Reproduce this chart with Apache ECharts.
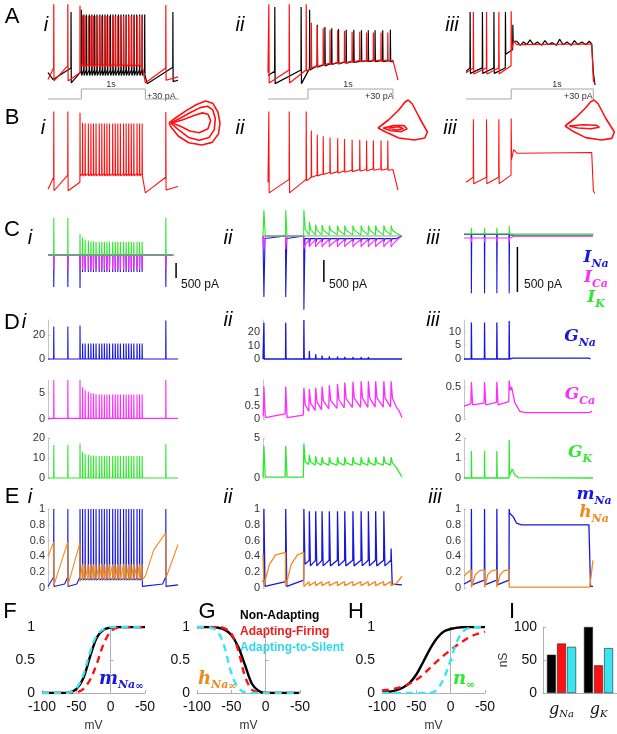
<!DOCTYPE html>
<html>
<head>
<meta charset="utf-8">
<script src="https://cdn.jsdelivr.net/npm/echarts/dist/echarts.min.js"></script>
<style>
  html, body { margin: 0; padding: 0; background: #fff; }
  #main { width: 617px; height: 734px; }
</style>
</head>
<body>
<div id="main"></div>
<script>
// ---------- column i : non-adapting (time in s) ----------
var tI = [0.09, 0.31,
  0.50, 0.54, 0.58, 0.63, 0.67, 0.71, 0.75, 0.80, 0.84, 0.88, 0.92, 0.96,
  1.01, 1.05, 1.09, 1.13, 1.18, 1.22, 1.26, 1.30, 1.34, 1.39, 1.43, 1.47,
  1.84];
var vRedIPeak = [38, 38,
  36, 22, 21, 21, 21, 21, 21, 21, 21, 21, 21, 21,
  21, 21, 21, 21, 21, 21, 21, 21, 21, 21, 21, 21,
  37];
var vRedIPre = [-55, -52,
  -62, -50, -50, -50, -50, -50, -50, -50, -50, -50, -50, -50,
  -50, -50, -50, -50, -50, -50, -50, -50, -50, -50, -50, -50,
  -55];
var vRedIPost = [-74, -74,
  -53, -53, -53, -53, -53, -53, -53, -53, -53, -53, -53, -53,
  -53, -53, -53, -53, -53, -53, -53, -53, -53, -53, -53, -53,
  -73];
var vRedIExtra = [[0, -72], [1.52, -77], [2.03, -68]];

var tBlackI = [0.36,
  0.52, 0.56, 0.60, 0.645, 0.685, 0.725, 0.765, 0.81, 0.85, 0.89, 0.93, 0.975,
  1.015, 1.055, 1.10, 1.14, 1.18, 1.22, 1.26, 1.305, 1.345, 1.385, 1.43, 1.47, 1.51,
  1.95];
var vBlackIPeak = [27,
  30, 23, 23, 23, 23, 23, 23, 23, 23, 23, 23, 23,
  23, 23, 23, 23, 23, 23, 23, 23, 23, 23, 23, 23, 23,
  27];
var vBlackIPre = [-55,
  -60, -58, -58, -58, -58, -58, -58, -58, -58, -58, -58, -58,
  -58, -58, -58, -58, -58, -58, -58, -58, -58, -58, -58, -58, -58,
  -54];
var vBlackIPost = [-77,
  -66, -66, -66, -66, -66, -66, -66, -66, -66, -66, -66, -66,
  -66, -66, -66, -66, -66, -66, -66, -66, -66, -66, -66, -66, -66,
  -75];
var vBlackIExtra = [[0, -62], [0.08, -72], [1.55, -78], [2.03, -73]];

// ---------- column ii : adapting-firing ----------
var tII = [0.01, 0.25, 0.45, 0.51, 0.58, 0.65, 0.73, 0.82, 0.90, 0.99, 1.08, 1.16, 1.24, 1.33, 1.41];
var vRedIIPeak = [38, 38, 38, 11, 5, 3, 1, 0, -1, -2, -2, -3, -3, -3, -3];
var vRedIIPre = [-60, -58, -58, -55, -52, -50, -48, -47, -46, -45, -44, -44, -43, -43, -43];
var vRedIIPost = [-77, -77, -60, -55, -53, -51, -50, -49, -48, -47, -46, -46, -45, -45, -45];
var vRedIIExtra = [[0, -62], [1.47, -44], [1.53, -73]];

var tBlackII = [0.08, 0.39, 0.49, 0.58, 0.67, 0.75, 0.83, 0.92, 1.01, 1.10, 1.18, 1.26, 1.35, 1.44];
var vBlackIIPeak = [34, 34, 30, 8, 5, 3, 2, 1, 1, 0, 0, 0, 0, 1];
var vBlackIIPre = [-60, -58, -56, -52, -50, -48, -47, -46, -45, -45, -44, -44, -44, -44];
var vBlackIIPost = [-78, -78, -58, -54, -52, -50, -49, -48, -47, -46, -46, -46, -46, -46];
var vBlackIIExtra = [[0, -66], [1.48, -46]];

// ---------- column iii : adapting-to-silent ----------
var tIII = [0.09, 0.25, 0.40, 0.55];
var vRedIIIPeak = [27, 27, 27, 28];
var vRedIIIPre = [-55, -55, -55, -52];
var vRedIIIPost = [-64, -64, -64, -30];
var vRedIIIExtra = [[0, -62], [0.58, -16], [0.62, -21], [1.53, -20], [1.55, -74], [1.57, -78]];

var tBlackIII = [0.05, 0.20, 0.34, 0.48, 0.57];
var vBlackIIIPeak = [27, 27, 27, 27, 8];
var vBlackIIIPre = [-55, -55, -55, -55, -28];
var vBlackIIIPost = [-63, -63, -63, -35, -16];
var vBlackIIIExtra = [[0, -60], [0.62, -16], [0.66, -22], [0.70, -17], [0.74, -21], [0.78, -14],
  [0.82, -21], [0.87, -17], [0.92, -22], [0.96, -15], [1.00, -21], [1.05, -18], [1.10, -22],
  [1.14, -13], [1.18, -21], [1.23, -17], [1.28, -22], [1.32, -15], [1.36, -21], [1.41, -17],
  [1.46, -21], [1.50, -16], [1.53, -20], [1.55, -62], [1.57, -80]];

// stimulus (pA)
var stimTI = [0, 0.52, 0.52, 1.52, 1.52, 2.06];
var stimAI = [0, 0, 30, 30, 0, 0];
var stimTII = [0, 0.47, 0.47, 1.47, 1.47];
var stimAII = [0, 0, 30, 30, 0];
var stimTIII = [0, 0.55, 0.55, 1.55, 1.55];
var stimAIII = [0, 0, 30, 30, 0];

// phase-plane loops (normalised V, dV/dt)
var loopI = [
  [[0.02, 0.5], [0.15, 0.62], [0.35, 0.78], [0.55, 0.92], [0.72, 1.0], [0.86, 0.95], [0.96, 0.75], [1.0, 0.5], [0.97, 0.25], [0.85, 0.06], [0.65, 0.0], [0.4, 0.05], [0.2, 0.2], [0.05, 0.42], [0.02, 0.5]],
  [[0.05, 0.5], [0.25, 0.62], [0.45, 0.75], [0.62, 0.85], [0.76, 0.88], [0.86, 0.8], [0.91, 0.6], [0.89, 0.35], [0.79, 0.17], [0.6, 0.11], [0.4, 0.17], [0.2, 0.35], [0.05, 0.5]],
  [[0.08, 0.5], [0.3, 0.58], [0.5, 0.67], [0.66, 0.73], [0.77, 0.7], [0.82, 0.55], [0.77, 0.37], [0.6, 0.28], [0.42, 0.32], [0.25, 0.42], [0.08, 0.5]]
];
var loopII = [
  [[0.0, 0.3], [0.2, 0.5], [0.4, 0.75], [0.52, 0.95], [0.58, 1.0], [0.66, 0.9], [0.8, 0.55], [0.95, 0.2], [0.9, 0.05], [0.7, 0.0], [0.4, 0.05], [0.15, 0.2], [0.0, 0.3]],
  [[0.1, 0.3], [0.3, 0.36], [0.5, 0.36], [0.56, 0.28], [0.45, 0.21], [0.25, 0.23], [0.1, 0.3]],
  [[0.2, 0.3], [0.4, 0.33], [0.49, 0.28], [0.35, 0.25], [0.2, 0.3]]
];
var loopIII = [
  [[0.0, 0.35], [0.2, 0.55], [0.38, 0.78], [0.5, 0.96], [0.56, 1.0], [0.64, 0.9], [0.78, 0.55], [0.95, 0.2], [0.9, 0.04], [0.7, 0.0], [0.4, 0.06], [0.15, 0.22], [0.0, 0.35]],
  [[0.08, 0.35], [0.35, 0.38], [0.6, 0.37], [0.66, 0.32], [0.5, 0.28], [0.25, 0.3], [0.08, 0.35]]
];

// ---------- C : currents (pA) ----------
var iKIPeak = [1230, 1230,
  700, 580, 520, 480, 460, 450, 440, 440, 440, 440, 440, 440,
  440, 440, 440, 440, 440, 440, 440, 440, 440, 440, 440, 440,
  1230];
var iCaIPeak = [-480, -480,
  -520, -500, -500, -500, -500, -500, -500, -500, -500, -500, -500, -500,
  -500, -500, -500, -500, -500, -500, -500, -500, -500, -500, -500, -500,
  -480];
var iNaIPeak = [-1070, -1070,
  -1100, -570, -570, -570, -570, -570, -570, -570, -570, -570, -570, -570,
  -570, -570, -570, -570, -570, -570, -570, -570, -570, -570, -570, -570,
  -1070];
var iIEnd = [[0, 0], [1.95, 0]];

var iKIIPeak = [590, 590, 590, 320, 260, 250, 240, 240, 240, 240, 240, 240, 240, 240, 240];
var iKIIPre = [0, 0, 0, 20, 25, 25, 25, 25, 25, 25, 25, 25, 25, 25, 25];
var iKIIPost = [0, 0, 150, 140, 130, 130, 130, 130, 130, 130, 130, 130, 130, 130, 130];
var iKIIExtra = [[0, 0], [1.47, 60], [1.53, 0]];
var iCaIIPeak = [-300, -300, -300, -250, -250, -250, -250, -250, -250, -250, -250, -250, -250, -250, -250];
var iCaIIPre = [0, 0, 0, -80, -80, -80, -80, -80, -80, -80, -80, -80, -80, -80, -80];
var iCaIIPost = [0, 0, -200, -200, -200, -200, -200, -200, -200, -200, -200, -200, -200, -200, -200];
var iCaIIExtra = [[0, 0], [1.47, -100], [1.53, 0]];
var iNaIIPeak = [-1390, -1390, -1680, -200, -160, -140, -130, -130, -130, -130, -130, -130, -130, -130, -130];
var iNaIIPre = [0, 0, 0, -60, -60, -60, -60, -60, -60, -60, -60, -60, -60, -60, -60];
var iNaIIExtra = [[0, 0], [1.47, -60], [1.53, 0]];

var iKIIIPeak = [70, 70, 70, 90];
var iKIIIExtra = [[0, 0], [0.6, -10], [1.57, -10]];
var iCaIIIPeak = [-90, -90, -90, -90];
var iCaIIIExtra = [[0, -45], [0.62, -25], [1.57, -25]];
var iNaIIIPeak = [-660, -660, -660, -660];
var iNaIIIExtra = [[0, -5], [0.6, -20], [1.57, -20]];
var zeroLineEnd = [1.98, 1.53, 1.61];

// ---------- D : conductances (nS) ----------
var gNaIPeak = [27, 27,
  28, 13, 13, 13, 13, 13, 13, 13, 13, 13, 13, 13,
  13, 13, 13, 13, 13, 13, 13, 13, 13, 13, 13, 13,
  32];
var gCaIPeak = [7.5, 7.5,
  7.5, 6.1, 5.6, 5.3, 5.0, 4.9, 4.8, 4.7, 4.7, 4.7, 4.7, 4.7,
  4.7, 4.7, 4.7, 4.7, 4.7, 4.7, 4.7, 4.7, 4.7, 4.7, 4.7, 4.7,
  7.5];
var gKIPeak = [16.5, 16.5,
  17.3, 13, 12, 11.6, 11.3, 11.2, 11.1, 11, 11, 11, 11, 11,
  11, 11, 11, 11, 11, 11, 11, 11, 11, 11, 11, 11,
  17];

var gNaIIPeak = [27, 27, 29, 6, 3.5, 2.5, 2, 1.8, 1.6, 1.5, 1.5, 1.5, 1.4, 1.4, 1.4];
var gCaIIPeak = [1.25, 1.25, 1.2, 1.15, 1.2, 1.25, 1.3, 1.35, 1.4, 1.42, 1.45, 1.45, 1.45, 1.45, 1.45];
var gCaIIPre = [0.2, 0.2, 0.15, 0.3, 0.33, 0.36, 0.39, 0.41, 0.43, 0.44, 0.45, 0.45, 0.46, 0.46, 0.46];
var gCaIIPost = [0.05, 0.05, 0.55, 0.6, 0.65, 0.7, 0.72, 0.75, 0.78, 0.8, 0.8, 0.8, 0.8, 0.8, 0.8];
var gCaIIExtra = [[0, 0.12], [1.47, 0.45], [1.5, 0.3], [1.53, 0.05]];
var gKIIPeak = [4.0, 4.0, 4.3, 2.9, 2.7, 2.6, 2.6, 2.6, 2.6, 2.6, 2.6, 2.6, 2.6, 2.7, 2.6];
var gKIIPre = [0.1, 0.1, 0.1, 1.7, 1.6, 1.6, 1.6, 1.6, 1.6, 1.6, 1.6, 1.6, 1.6, 1.6, 1.6];
var gKIIPost = [0.1, 0.1, 2.0, 2.0, 1.9, 1.9, 1.9, 1.9, 1.9, 1.9, 1.9, 1.9, 1.9, 1.9, 1.9];
var gKIIExtra = [[0, 0.1], [1.47, 1.3], [1.53, 0.1]];

var gNaIIIPeak = [13.5, 13.5, 13.5, 14];
var gNaIIIExtra = [[0, 0], [0.6, 0.3], [1.52, 0.3], [1.54, 0]];
var gCaIIIPeak = [0.58, 0.58, 0.58, 0.6];
var gCaIIIPre = [0.24, 0.25, 0.26, 0.27];
var gCaIIIPost = [0.22, 0.22, 0.22, 0.45];
var gCaIIIExtra = [[0, 0.2], [0.58, 0.5], [0.62, 0.25], [0.68, 0.12], [0.75, 0.1], [1.52, 0.1], [1.54, 0.13], [1.56, 0.12]];
var gKIIIPeak = [1.35, 1.35, 1.35, 1.9];
var gKIIIPost = [0, 0, 0, 0.1];
var gKIIIExtra = [[0, 0], [0.585, 0.45], [0.62, 0.15], [0.66, 0.02], [1.57, 0]];

// ---------- E : gating variables ----------
var mNaIPre = [0.14, 0.14,
  0.14, 0.12, 0.12, 0.12, 0.12, 0.12, 0.12, 0.12, 0.12, 0.12, 0.12, 0.12,
  0.12, 0.12, 0.12, 0.12, 0.12, 0.12, 0.12, 0.12, 0.12, 0.12, 0.12, 0.12,
  0.14];
var mNaIPost = [0.02, 0.02,
  0.1, 0.1, 0.1, 0.1, 0.1, 0.1, 0.1, 0.1, 0.1, 0.1, 0.1, 0.1,
  0.1, 0.1, 0.1, 0.1, 0.1, 0.1, 0.1, 0.1, 0.1, 0.1, 0.1, 0.02,
  0.02];
var mNaIExtra = [[0, 0.02], [0.26, 0.05], [0.45, 0.05], [1.79, 0.05], [2.03, 0.04]];
var hNaIPre = [0.58, 0.58,
  0.57, 0.3, 0.3, 0.3, 0.3, 0.3, 0.3, 0.3, 0.3, 0.3, 0.3, 0.3,
  0.3, 0.3, 0.3, 0.3, 0.3, 0.3, 0.3, 0.3, 0.3, 0.3, 0.3, 0.3,
  0.7];
var hNaIDrop = [0.03, 0.03,
  0.08, 0.1, 0.1, 0.1, 0.1, 0.1, 0.1, 0.1, 0.1, 0.1, 0.1, 0.1,
  0.1, 0.1, 0.1, 0.1, 0.1, 0.1, 0.1, 0.1, 0.1, 0.1, 0.1, 0.1,
  0.12];
var hNaIExtra = [[0, 0.4], [1.52, 0.15], [1.65, 0.48], [2.03, 0.55]];

var mNaIIPeak = [1, 1, 1, 0.97, 0.97, 0.97, 0.97, 0.97, 0.97, 0.97, 0.97, 0.97, 0.97, 0.97, 0.5];
var mNaIIPre = [0.06, 0.08, 0.1, 0.35, 0.35, 0.35, 0.35, 0.35, 0.35, 0.35, 0.35, 0.35, 0.35, 0.35, 0.35];
var mNaIIPost = [0.02, 0.02, 0.3, 0.28, 0.28, 0.28, 0.28, 0.28, 0.28, 0.28, 0.28, 0.28, 0.28, 0.28, 0.05];
var mNaIIExtra = [[0, 0.1], [1.53, 0.04]];
var hNaIIPre = [0.43, 0.45, 0.45, 0.08, 0.08, 0.08, 0.08, 0.08, 0.08, 0.08, 0.08, 0.08, 0.08, 0.08, 0.08];
var hNaIIDrop = [0.03, 0.02, 0.02, 0.03, 0.03, 0.03, 0.03, 0.03, 0.03, 0.03, 0.03, 0.03, 0.03, 0.03, 0.03];
var hNaIIExtra = [[0, 0.43], [0.07, 0.3], [0.14, 0.42], [0.31, 0.3], [0.38, 0.42], [1.47, 0.06], [1.53, 0.15]];

var mNaIIIPeak = [1, 1, 1, 1];
var mNaIIIPre = [0.1, 0.1, 0.1, 0.1];
var mNaIIIPost = [0.04, 0.04, 0.04, 0.95];
var mNaIIIExtra = [[0, 0.05], [0.6, 0.9], [0.64, 0.82], [0.7, 0.8], [1.52, 0.8], [1.54, 0.02], [1.57, 0.02]];
var hNaIIIPre = [0.23, 0.23, 0.23, 0.23];
var hNaIIIDrop = [0.01, 0.01, 0.01, 0.01];
var hNaIIIExtra = [[0, 0.15], [0.05, 0.2], [0.14, 0.17], [0.19, 0.22], [0.29, 0.17], [0.34, 0.22],
  [0.44, 0.17], [0.49, 0.22], [1.53, 0.01], [1.57, 0.35]];

// ---------- F, G, H : steady-state curves ----------
var mvX = [-100, -90, -80, -70, -60, -50, -40, -30, -20, -10, 0, 10, 20, 30, 40, 50];
var mvTicks = [-100, -50, 0, 50];
var mvTickLabels = ['-100', '-50', '0', '-50'];
var mInfBlack = [0, 0, 0, 0, 0.01, 0.06, 0.22, 0.55, 0.84, 0.96, 0.99, 1, 1, 1, 1, 1];
var mInfRed = [0, 0, 0, 0, 0, 0.01, 0.06, 0.2, 0.45, 0.75, 0.93, 0.99, 1, 1, 1, 1];
var mInfCyan = [0, 0, 0, 0, 0.01, 0.07, 0.27, 0.62, 0.88, 0.97, 1, 1, 1, 1, 1, 1];
var hInfBlack = [1, 1, 1, 0.99, 0.96, 0.88, 0.7, 0.42, 0.14, 0.03, 0, 0, 0, 0, 0, 0];
var hInfRed = [1, 1, 1, 1, 0.98, 0.9, 0.65, 0.25, 0.05, 0.01, 0, 0, 0, 0, 0, 0];
var hInfCyan = [1, 1, 0.99, 0.93, 0.7, 0.3, 0.08, 0.01, 0, 0, 0, 0, 0, 0, 0, 0];
var nInfBlack = [0.01, 0.02, 0.04, 0.08, 0.15, 0.28, 0.47, 0.67, 0.83, 0.93, 0.97, 0.99, 1, 1, 1, 1];
var nInfRed = [0.04, 0.05, 0.07, 0.1, 0.14, 0.2, 0.28, 0.38, 0.48, 0.57, 0.65, 0.73, 0.8, 0.86, 0.9, 0.93];
var nInfCyan = [0, 0, 0, 0, 0, 0, 0, 0, 0.05, 0.22, 0.5, 0.8, 0.95, 0.99, 1, 1];

// ---------- I : maximal conductances (nS) ----------
var gCats = ['Na', 'K'];
var gNonAdapting = [58, 100];
var gAdaptFiring = [75, 42];
var gAdaptSilent = [70, 68];

var scaleBarPA = 500;

// ================== drawing ==================
var RED = '#ff1010', BLACK = '#000000', BLUE = '#1717e0', MAG = '#ff2cff',
    GREEN = '#2ee82e', ORANGE = '#f08a1c', CYAN = '#38e6f2', GRAY = '#a6a6a6';

var grids = [], xAxes = [], yAxes = [], series = [], graphics = [];

function val(a, k) { return Array.isArray(a) ? a[k] : a; }

// spike train: a knot just before, at and just after each spike, plus extra knots
function train(times, pre, peak, post, extra, wPre, wPost) {
  var pts = [];
  for (var k = 0; k < times.length; k++) {
    var t = times[k];
    pts.push([t - wPre, val(pre, k)], [t, val(peak, k)], [t + wPost, val(post, k)]);
  }
  (extra || []).forEach(function (p) { pts.push(p); });
  pts.sort(function (a, b) { return a[0] - b[0]; });
  return pts;
}
function zip(xs, ys) { return xs.map(function (x, i) { return [x, ys[i]]; }); }

function addGrid(rect, xr, yr, yAx) {
  var i = grids.length;
  grids.push({ left: rect[0], top: rect[1], width: rect[2], height: rect[3] });
  xAxes.push({ gridIndex: i, type: 'value', min: xr[0], max: xr[1], show: false, splitLine: { show: false } });
  var y = { gridIndex: i, type: 'value', min: yr[0], max: yr[1], show: false, splitLine: { show: false } };
  if (yAx) Object.assign(y, yAx);
  yAxes.push(y);
  return i;
}
function smallY(ticks) {
  return {
    show: true,
    axisLine: { show: true, lineStyle: { color: '#c4c4c4', width: 1 } },
    axisTick: { show: true, inside: true, length: 2, customValues: ticks, lineStyle: { color: '#c4c4c4' } },
    axisLabel: { show: true, customValues: ticks, fontSize: 11, color: '#333', margin: 3, fontFamily: 'Liberation Sans' },
    splitLine: { show: false }
  };
}
function line(gi, data, color, w, dash) {
  series.push({
    type: 'line', xAxisIndex: gi, yAxisIndex: gi, data: data, showSymbol: false, symbol: 'none',
    lineStyle: { color: color, width: w || 1.2, type: dash || 'solid' }, clip: false, silent: true
  });
}
function txt(x, y, text, o) {
  o = o || {};
  graphics.push({
    type: 'text', x: x, y: y, silent: true,
    style: {
      text: text, fill: o.fill || '#000', fontSize: o.size || 12,
      fontFamily: o.family || 'Liberation Sans', fontStyle: o.style || 'normal',
      fontWeight: o.weight || 'normal', align: o.align || 'center', verticalAlign: 'middle',
      rich: o.rich
    }
  });
}
function mathLabel(x, y, main, sub, color, size, align, extraSub) {
  var s = size || 17;
  var text = '{m|' + main + '}{s|' + sub + '}' + (extraSub ? '{t|' + extraSub + '}' : '');
  txt(x, y, text, {
    align: align || 'center',
    rich: {
      m: { fontFamily: 'DejaVu Serif', fontStyle: 'italic', fontWeight: 'bold', fontSize: s, fill: color, verticalAlign: 'middle', lineHeight: s + 6 },
      s: { fontFamily: 'DejaVu Serif', fontStyle: 'italic', fontWeight: 'bold', fontSize: Math.round(s * 0.62), fill: color, verticalAlign: 'bottom', lineHeight: s + 6 },
      t: { fontFamily: 'DejaVu Serif', fontWeight: 'bold', fontSize: Math.round(s * 0.55), fill: color, verticalAlign: 'bottom', lineHeight: s + 2 }
    }
  });
}

var WP = 0.002, WQ = 0.004;

// ---- column geometry ----
var colAB = [{ left: 48, width: 130, tmax: 2.03 }, { left: 268, width: 130, tmax: 1.53 }, { left: 466, width: 129, tmax: 1.57 }];
var colCDE = [{ left: 48, width: 130, tmax: 2.03 }, { left: 263, width: 139, tmax: 1.53 }, { left: 464, width: 129, tmax: 1.57 }];

// ---- A : recordings (black) vs model (red) ----
var redV = [
  train(tI, vRedIPre, vRedIPeak, vRedIPost, vRedIExtra, WP, WQ),
  train(tII, vRedIIPre, vRedIIPeak, vRedIIPost, vRedIIExtra, WP, WQ),
  train(tIII, vRedIIIPre, vRedIIIPeak, vRedIIIPost, vRedIIIExtra, WP, WQ)
];
var blackV = [
  train(tBlackI, vBlackIPre, vBlackIPeak, vBlackIPost, vBlackIExtra, WP, WQ),
  train(tBlackII, vBlackIIPre, vBlackIIPeak, vBlackIIPost, vBlackIIExtra, WP, WQ),
  train(tBlackIII, vBlackIIIPre, vBlackIIIPeak, vBlackIIIPost, vBlackIIIExtra, WP, WQ)
];
var stims = [zip(stimTI, stimAI), zip(stimTII, stimAII), zip(stimTIII, stimAIII)];
for (var c = 0; c < 3; c++) {
  var g = colAB[c];
  var ga = addGrid([g.left, 3, g.width, 82], [0, g.tmax], [-80, 40]);
  line(ga, blackV[c], BLACK, 1.2);
  line(ga, redV[c], RED, 1.2);
  var gs = addGrid([g.left, 89, g.width, 10], [0, g.tmax], [0, 30]);
  line(gs, stims[c], GRAY, 1);
  var gb = addGrid([g.left, 110, g.width, 85], [0, g.tmax], [-80, 40]);
  line(gb, redV[c], RED, 1.1);
}
// phase-plane insets
[[loopI, [168, 101, 52, 44]], [loopII, [378, 100, 52, 40]], [loopIII, [565, 100, 52, 40]]].forEach(function (L) {
  var gl = addGrid(L[1], [0, 1], [0, 1]);
  L[0].forEach(function (loop) { line(gl, loop, RED, 1.6); });
});

// ---- C : currents ----
var cDefs = [
  { yr: [-1500, 1400], top: 213, h: 87, bar: 2.0, barTop: -270,
    na: train(tI, 0, iNaIPeak, 0, iIEnd, WP, WQ),
    ca: train(tI, 0, iCaIPeak, 0, iIEnd, WP, WQ),
    k: train(tI, 0, iKIPeak, 0, iIEnd, WP, WQ) },
  { yr: [-1730, 590], top: 210, h: 102, bar: 0.67, barTop: -545,
    na: train(tII, iNaIIPre, iNaIIPeak, -60, iNaIIExtra, WP, 0.012),
    ca: train(tII, iCaIIPre, iCaIIPeak, iCaIIPost, iCaIIExtra, WP, 0.015),
    k: train(tII, iKIIPre, iKIIPeak, iKIIPost, iKIIExtra, WP, 0.015) },
  { yr: [-845, 100], top: 225, h: 85, bar: 0.65, barTop: -144,
    na: train(tIII, -5, iNaIIIPeak, -5, iNaIIIExtra, WP, WQ),
    ca: train(tIII, -45, iCaIIIPeak, -45, iCaIIIExtra, WP, WQ),
    k: train(tIII, 0, iKIIIPeak, 0, iKIIIExtra, WP, WQ) }
];
cDefs.forEach(function (d, c) {
  var g = colCDE[c];
  var gi = addGrid([g.left, d.top, g.width, d.h], [0, g.tmax], d.yr);
  line(gi, [[0, 0], [zeroLineEnd[c], 0]], '#9a9a9a', 1);
  line(gi, d.na, BLUE, 1.1);
  line(gi, d.ca, MAG, 1.1);
  line(gi, d.k, GREEN, 1.1);
  line(gi, [[d.bar, d.barTop], [d.bar, d.barTop - scaleBarPA]], BLACK, 1.5);
});

// ---- D : conductances ----
var dDefs = [
  [ { max: 32.5, ticks: [0, 20], d: train(tI, 0, gNaIPeak, 0, [[0, 0], [2.03, 0]], WP, WQ) },
    { max: 7.5, ticks: [0, 5], d: train(tI, 0.12, gCaIPeak, 0.12, [[0, 0.12], [2.03, 0.12]], WP, WQ) },
    { max: 20, ticks: [0, 10, 20], d: train(tI, 0, gKIPeak, 0, [[0, 0], [2.03, 0]], WP, WQ) } ],
  [ { max: 29, ticks: [0, 10, 20], d: train(tII, 0, gNaIIPeak, 0, [[0, 0], [1.53, 0]], WP, WQ) },
    { max: 1.5, ticks: [0, 0.5, 1], d: train(tII, gCaIIPre, gCaIIPeak, gCaIIPost, gCaIIExtra, 0.006, 0.015) },
    { max: 5, ticks: [0, 5], d: train(tII, gKIIPre, gKIIPeak, gKIIPost, gKIIExtra, 0.006, 0.015) } ],
  [ { max: 14.4, ticks: [0, 5, 10], d: train(tIII, 0, gNaIIIPeak, 0, gNaIIIExtra, WP, WQ) },
    { max: 0.61, ticks: [0, 0.5], d: train(tIII, gCaIIIPre, gCaIIIPeak, gCaIIIPost, gCaIIIExtra, 0.006, 0.015) },
    { max: 2, ticks: [0, 1, 2], d: train(tIII, 0, gKIIIPeak, gKIIIPost, gKIIIExtra, WP, WQ) } ]
];
var dRows = [{ top: 320, h: 39, color: BLUE }, { top: 380, h: 39, color: MAG }, { top: 438, h: 40, color: GREEN }];
dDefs.forEach(function (col, c) {
  var g = colCDE[c];
  col.forEach(function (p, r) {
    var gi = addGrid([g.left, dRows[r].top, g.width, dRows[r].h], [0, g.tmax], [0, p.max], smallY(p.ticks));
    line(gi, p.d, dRows[r].color, c === 0 ? 1.1 : 1.3);
  });
});

// ---- E : gating variables ----
var eDefs = [
  { m: train(tI, mNaIPre, 1, mNaIPost, mNaIExtra, WP, WQ), h: train(tI, hNaIPre, hNaIDrop, hNaIDrop, hNaIExtra, WP, WQ) },
  { m: train(tII, mNaIIPre, mNaIIPeak, mNaIIPost, mNaIIExtra, WP, 0.012), h: train(tII, hNaIIPre, hNaIIDrop, hNaIIDrop, hNaIIExtra, WP, WQ) },
  { m: train(tIII, mNaIIIPre, mNaIIIPeak, mNaIIIPost, mNaIIIExtra, WP, WQ), h: train(tIII, hNaIIIPre, hNaIIIDrop, hNaIIIDrop, hNaIIIExtra, WP, WQ) }
];
eDefs.forEach(function (d, c) {
  var g = colCDE[c];
  var gi = addGrid([g.left, 509, g.width, 79], [0, g.tmax], [0, 1], smallY([0, 0.2, 0.4, 0.6, 0.8, 1]));
  line(gi, d.m, BLUE, c === 0 ? 1.1 : 1.3);
  line(gi, d.h, ORANGE, c === 0 ? 1.1 : 1.3);
});

// ---- F, G, H ----
function curveGrid(left) {
  var i = grids.length;
  grids.push({ left: left, top: 627, width: 103, height: 66 });
  xAxes.push({
    gridIndex: i, type: 'value', min: -100, max: 50,
    name: 'mV', nameLocation: 'middle', nameGap: 27, nameTextStyle: { fontSize: 12, color: '#333', fontFamily: 'Liberation Sans' },
    axisLine: { show: true, onZero: false, lineStyle: { color: '#b0b0b0' } },
    axisTick: { show: true, inside: true, length: 3, customValues: mvTicks, lineStyle: { color: '#b0b0b0' } },
    axisLabel: { customValues: mvTicks, fontSize: 14, color: '#111', margin: 7, fontFamily: 'Liberation Sans',
      formatter: function (v) { return mvTickLabels[mvTicks.indexOf(v)]; } },
    splitLine: { show: false }
  });
  yAxes.push({
    gridIndex: i, type: 'value', min: 0, max: 1,
    axisLine: { show: true, lineStyle: { color: '#b0b0b0' } },
    axisTick: { show: true, inside: true, length: 3, customValues: [0, 0.5, 1], lineStyle: { color: '#b0b0b0' } },
    axisLabel: { customValues: [0, 0.5, 1], fontSize: 14, color: '#111', margin: 7, fontFamily: 'Liberation Sans' },
    splitLine: { show: false }
  });
  return i;
}
function curves(gi, blk, red, cyan) {
  [[blk, BLACK, 'solid'], [red, RED, [7, 5]], [cyan, CYAN, [7, 5]]].forEach(function (s) {
    series.push({
      type: 'line', xAxisIndex: gi, yAxisIndex: gi, data: zip(mvX, s[0]), showSymbol: false, symbol: 'none',
      smooth: 0.35, lineStyle: { color: s[1], width: 2.4, type: s[2] }, silent: true
    });
  });
}
curves(curveGrid(42), mInfBlack, mInfRed, mInfCyan);
curves(curveGrid(197), hInfBlack, hInfRed, hInfCyan);
curves(curveGrid(382), nInfBlack, nInfRed, nInfCyan);

// ---- I : bars ----
var gI = grids.length;
grids.push({ left: 543, top: 627, width: 74, height: 66 });
xAxes.push({
  gridIndex: gI, type: 'category', data: gCats,
  axisLine: { show: true, lineStyle: { color: '#b0b0b0' } }, axisTick: { show: false },
  axisLabel: { interval: 0, margin: 8, formatter: function (v) { return '{g|g}{s|' + v + '}'; },
    rich: { g: { fontFamily: 'DejaVu Serif', fontStyle: 'italic', fontSize: 16, color: '#111', verticalAlign: 'middle' },
            s: { fontFamily: 'DejaVu Serif', fontStyle: 'italic', fontSize: 10, color: '#111', verticalAlign: 'bottom', padding: [8, 0, 0, 0] } } }
});
yAxes.push({
  gridIndex: gI, type: 'value', min: 0, max: 100,
  name: 'nS', nameLocation: 'middle', nameGap: 22, nameRotate: 90, nameTextStyle: { fontSize: 12, color: '#333', fontFamily: 'Liberation Sans' },
  axisLine: { show: true, lineStyle: { color: '#b0b0b0' } },
  axisTick: { show: true, inside: true, length: 3, customValues: [0, 50, 100], lineStyle: { color: '#b0b0b0' } },
  axisLabel: { customValues: [0, 50, 100], fontSize: 14, color: '#111', margin: 6, fontFamily: 'Liberation Sans' },
  splitLine: { show: false }
});
[[gNonAdapting, BLACK], [gAdaptFiring, RED], [gAdaptSilent, CYAN]].forEach(function (s) {
  series.push({ type: 'bar', xAxisIndex: gI, yAxisIndex: gI, data: s[0], barWidth: 9, barGap: '12%',
    itemStyle: { color: s[1], borderColor: '#222', borderWidth: 0.6 }, silent: true });
});

// ---- text ----
[['A', 12, 17], ['B', 12, 118], ['C', 12, 230], ['D', 12, 323], ['E', 12, 497],
 ['F', 10, 612], ['G', 207, 612], ['H', 356, 612], ['I', 512, 612]].forEach(function (L) {
  txt(L[1], L[2], L[0], { size: 22 });
});
[[[46, 25], [240, 25], [452, 25]], [[43, 128], [240, 128], [450, 128]], [[30, 238], [228, 238], [433, 238]],
 [[24, 322], [228, 320], [433, 320]], [[30, 497], [228, 497], [435, 497]]].forEach(function (row) {
  ['i', 'ii', 'iii'].forEach(function (n, k) { txt(row[k][0], row[k][1], n, { size: 20, style: 'italic' }); });
});
txt(111, 85, '1s', { size: 9, fill: '#333' });
txt(348, 85, '1s', { size: 9, fill: '#333' });
txt(557, 85, '1s', { size: 9, fill: '#333' });
txt(147, 97, '+30 pA', { size: 9, fill: '#333', align: 'left' });
txt(365, 97, '+30 pA', { size: 9, fill: '#333', align: 'left' });
txt(564, 97, '+30 pA', { size: 9, fill: '#333', align: 'left' });
txt(181, 285, '500 pA', { size: 12, fill: '#111', align: 'left' });
txt(329, 285, '500 pA', { size: 12, fill: '#111', align: 'left' });
txt(524, 285, '500 pA', { size: 12, fill: '#111', align: 'left' });

mathLabel(596, 258, 'I', 'Na', BLUE, 17);
mathLabel(596, 278, 'I', 'Ca', MAG, 17);
mathLabel(596, 298, 'I', 'K', GREEN, 17);
mathLabel(580, 337, 'G', 'Na', BLUE, 17);
mathLabel(580, 395, 'G', 'Ca', MAG, 17);
mathLabel(580, 453, 'G', 'K', GREEN, 17);
mathLabel(594, 495, 'm', 'Na', BLUE, 17);
mathLabel(594, 513, 'h', 'Na', ORANGE, 17);
mathLabel(99, 679, 'm', 'Na', BLUE, 18, 'left', '∞');
mathLabel(198, 679, 'h', 'Na', ORANGE, 18, 'left', '∞');
mathLabel(453, 679, 'n', '∞', GREEN, 18, 'left');

txt(240, 616, 'Non-Adapting', { size: 12, weight: 'bold', align: 'left', fill: '#000' });
txt(240, 632, 'Adapting-Firing', { size: 12, weight: 'bold', align: 'left', fill: '#ee1c1c' });
txt(240, 648, 'Adapting-to-Silent', { size: 12, weight: 'bold', align: 'left', fill: '#2fd8ee' });

var chart = echarts.init(document.getElementById('main'), null, { renderer: 'canvas' });
chart.setOption({
  animation: false,
  backgroundColor: '#ffffff',
  grid: grids,
  xAxis: xAxes,
  yAxis: yAxes,
  series: series,
  graphic: { elements: graphics }
});
</script>
</body>
</html>
